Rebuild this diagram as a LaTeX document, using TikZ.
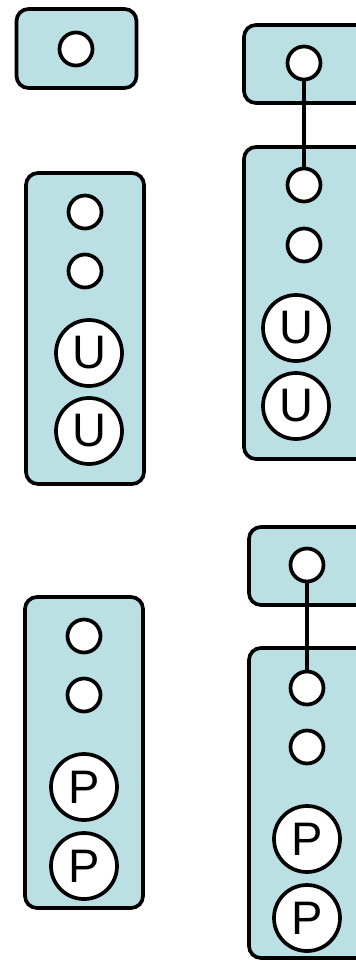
\documentclass[tikz,border=0pt]{standalone}
\usepackage{fontspec}
\setmainfont{Liberation Sans}
\definecolor{boxfill}{RGB}{186,224,227}
\begin{document}
\begin{tikzpicture}[x=1pt,y=-1pt,
  box/.style={draw=black,line width=3.7pt,fill=boxfill,rounded corners=12pt,rectangle,inner sep=0pt},
  dot/.style={draw=black,line width=3.7pt,fill=white,circle,inner sep=0pt,minimum size=33pt},
  big/.style={draw=black,line width=3.7pt,fill=white,circle,inner sep=0pt,minimum size=66pt,font=\fontsize{47}{50}\selectfont},
  link/.style={line width=3.7pt}]
\useasboundingbox (0,0) rectangle (356,961);
\clip (0,0) rectangle (356,961);
% boxes
\node[box,minimum width=120pt,minimum height=79pt] (b1) at (76.5,48.5) {};
\node[box,minimum width=130pt,minimum height=78pt] (b2) at (309,64) {};
\node[box,minimum width=130pt,minimum height=312pt] (b3) at (309,303) {};
\node[box,minimum width=118pt,minimum height=311pt] (b4) at (85,328.5) {};
\node[box,minimum width=118pt,minimum height=311pt] (b5) at (84,752.5) {};
\node[box,minimum width=130pt,minimum height=78pt] (b6) at (314,566) {};
\node[box,minimum width=130pt,minimum height=310pt] (b7) at (314,803) {};
% top-left
\node[dot] (c1) at (76,49) {};
% top-right
\node[dot] (c2) at (304,63) {};
\node[dot] (c3) at (304,185) {};
\node[dot] (c4) at (304,245) {};
\node[big] (u3) at (296,328) {U};
\node[big] (u4) at (296,406) {U};
\draw[link] (c2) -- (c3);
% left U
\node[dot] (c5) at (85,212) {};
\node[dot] (c6) at (85,271) {};
\node[big] (u1) at (89,353) {U};
\node[big] (u2) at (89,431) {U};
% left P
\node[dot] (c7) at (84,636) {};
\node[dot] (c8) at (84,695) {};
\node[big] (p1) at (84,787) {P};
\node[big] (p2) at (84,866) {P};
% right P
\node[dot] (c9) at (307,565) {};
\node[dot] (c10) at (307,688) {};
\node[dot] (c11) at (307,747) {};
\node[big] (p3) at (307,839) {P};
\node[big] (p4) at (307,918) {P};
\draw[link] (c9) -- (c10);
\end{tikzpicture}
\end{document}
